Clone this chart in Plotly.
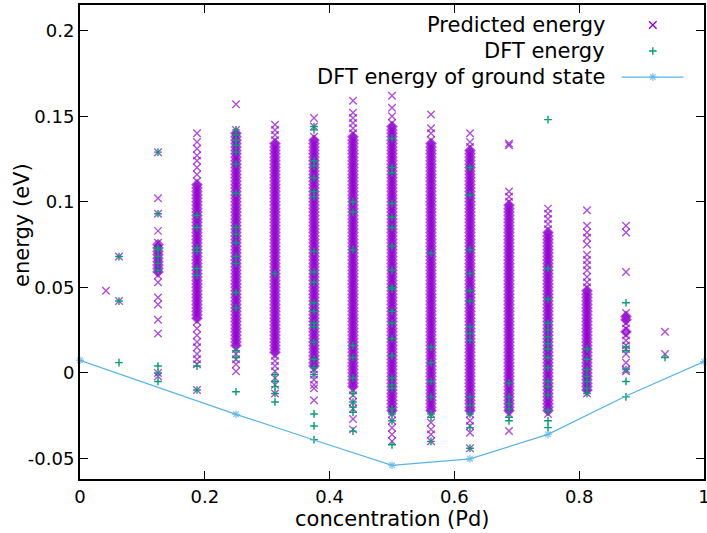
import plotly.graph_objects as go

# ---------------- data (energies in meV, converted to eV when plotted) ----------------
# Predicted energy, per Pd concentration
pred_0417 = [48]
pred_0625 = [68, 42]
pred_1250 = [129, 102, 93, 83, 76, 75, 73, 71, 69, 67, 65, 63, 61, 59, 57, 53, 44, 40, 31, 23, 0, -2]
pred_1875 = [140, 135, 131, 127, 124, 120, 116, 112, 110, 108, 106, 104, 102, 100, 98, 96, 94, 92, 90, 88, 86,
             84, 82, 80, 78, 76, 74, 72, 70, 68, 66, 64, 62, 60, 58, 56, 54, 52, 50, 48, 46, 44, 42, 40, 38, 36,
             34, 32, 30, 26, 22, 18, 15, 11, 8, 5, -10]
pred_2500 = [157, 142, 140, 138, 136, 134, 132, 130, 128, 126, 124, 122, 120, 118, 116, 114, 112, 110, 108, 106,
             104, 102, 100, 98, 96, 94, 92, 90, 88, 86, 84, 82, 80, 78, 76, 74, 72, 70, 68, 66, 64, 62, 60, 58, 56,
             54, 52, 50, 48, 46, 44, 42, 40, 38, 36, 34, 32, 30, 28, 26, 24, 22, 20, 18, 16, 14, 11, 8, 5, 1]
pred_3125 = [145, 142, 139, 136, 134, 132, 130, 128, 126, 124, 122, 120, 118, 116, 114, 112, 110, 108, 106, 104,
             102, 100, 98, 96, 94, 92, 90, 88, 86, 84, 82, 80, 78, 76, 74, 72, 70, 68, 66, 64, 62, 60, 58, 56, 54,
             52, 50, 48, 46, 44, 42, 40, 38, 36, 34, 32, 30, 28, 26, 24, 22, 20, 18, 16, 14, 12, 10, 7, 4, 1, -3,
             -7, -12]
pred_3750 = [149, 144, 138, 136, 134, 132, 130, 128, 126, 124, 122, 120, 118, 116, 114, 112, 110, 108, 106, 104,
             102, 100, 98, 96, 94, 92, 90, 88, 86, 84, 82, 80, 78, 76, 74, 72, 70, 68, 66, 64, 62, 60, 58, 56, 54,
             52, 50, 48, 46, 44, 42, 40, 38, 36, 34, 32, 30, 28, 26, 24, 22, 20, 18, 16, 14, 12, 10, 8, 6, 4, 2,
             -1, -4, -7, -9, -16]
pred_4375 = [159, 152, 149, 146, 143, 140, 138, 136, 134, 132, 130, 128, 126, 124, 122, 120, 118, 116, 114, 112,
             110, 108, 106, 104, 102, 100, 98, 96, 94, 92, 90, 88, 86, 84, 82, 80, 78, 76, 74, 72, 70, 68, 66, 64,
             62, 60, 58, 56, 54, 52, 50, 48, 46, 44, 42, 40, 38, 36, 34, 32, 30, 28, 26, 24, 22, 20, 18, 16, 14,
             12, 10, 8, 6, 4, 2, 0, -2, -4, -6, -8, -10, -13, -17, -21, -27, -33]
pred_5000 = [162, 155, 150, 146, 144, 142, 140, 138, 136, 134, 132, 130, 128, 126, 124, 122, 120, 118, 116, 114,
             112, 110, 108, 106, 104, 102, 100, 98, 96, 94, 92, 90, 88, 86, 84, 82, 80, 78, 76, 74, 72, 70, 68, 66,
             64, 62, 60, 58, 56, 54, 52, 50, 48, 46, 44, 42, 40, 38, 36, 34, 32, 30, 28, 26, 24, 22, 20, 18, 16,
             14, 12, 10, 8, 6, 4, 2, 0, -2, -4, -6, -8, -10, -12, -14, -16, -18, -20, -22, -24, -28, -32, -36, -40]
pred_5625 = [151, 143, 140, 136, 134, 132, 130, 128, 126, 124, 122, 120, 118, 116, 114, 112, 110, 108, 106, 104,
             102, 100, 98, 96, 94, 92, 90, 88, 86, 84, 82, 80, 78, 76, 74, 72, 70, 68, 66, 64, 62, 60, 58, 56, 54,
             52, 50, 48, 46, 44, 42, 40, 38, 36, 34, 32, 30, 28, 26, 24, 22, 20, 18, 16, 14, 12, 10, 8, 6, 4, 2,
             0, -2, -4, -6, -8, -10, -12, -14, -16, -18, -20, -22, -24, -29, -33, -36, -40]
pred_6250 = [140, 135, 132, 130, 128, 126, 124, 122, 120, 118, 116, 114, 112, 110, 108, 106, 104, 102, 100, 98,
             96, 94, 92, 90, 88, 86, 84, 82, 80, 78, 76, 74, 72, 70, 68, 66, 64, 62, 60, 58, 56, 54, 52, 50, 48,
             46, 44, 42, 40, 38, 36, 34, 32, 30, 28, 26, 24, 22, 20, 18, 16, 14, 12, 10, 8, 6, 4, 2, 0, -2, -4,
             -6, -8, -10, -12, -14, -16, -18, -20, -22, -24, -28, -31, -35, -44]
pred_6875 = [134, 133, 106, 103, 100, 98, 96, 94, 92, 90, 88, 86, 84, 82, 80, 78, 76, 74, 72, 70, 68, 66, 64, 62,
             60, 58, 56, 54, 52, 50, 48, 46, 44, 42, 40, 38, 36, 34, 32, 30, 28, 26, 24, 22, 20, 18, 16, 14, 12,
             10, 8, 6, 4, 2, 0, -2, -4, -6, -8, -10, -12, -14, -16, -18, -20, -22, -24, -34]
pred_7500 = [96, 93, 90, 87, 84, 82, 80, 78, 76, 74, 72, 70, 68, 66, 64, 62, 60, 58, 56, 54, 52, 50, 48, 46, 44,
             42, 40, 38, 36, 34, 32, 30, 28, 26, 24, 22, 20, 18, 16, 14, 12, 10, 8, 6, 4, 2, 0, -2, -4, -6, -8,
             -10, -12, -14, -16, -18, -20, -22, -24]
pred_8125 = [95, 86, 82, 79, 75, 69, 66, 63, 60, 56, 53, 50, 48, 46, 44, 42, 40, 38, 36, 34, 32, 30, 28, 26, 24,
             22, 20, 18, 16, 14, 12, 10, 8, 6, 4, 2, 0, -2, -4, -6, -8, -10, -12]
pred_8750 = [86, 82, 59, 35, 33, 31, 29, 26, 24, 22, 19, 16, 14, 11, 6, 2, 1]
pred_9375 = [24, 11]

# DFT energy, per Pd concentration
dft_0625 = [68, 42, 6]
dft_1250 = [129, 93, 73, 72, 68, 64, 60, 4, 0, -5]
dft_1875 = [92, 85, 73, 71, 61, 57, 4, -10]
dft_2500 = [142, 139, 136, 133, 129, 122, 105, 85, 81, 76, 68, 64, 47, 38, 13, 9, -11]
dft_3125 = [58, -1, -5, -8, -12, -17]
dft_3750 = [144, 142, 124, 121, 114, 106, 103, 71, 59, 53, 41, 36, 29, 27, 18, 8, 3, -1, -24, -31, -39]
dft_4375 = [100, 94, 72, 16, 9, -3, -12, -17, -20, -23, -34]
dft_5000 = [137, 120, 117, 99, 91, 85, 74, 60, 50, 49, 36, 29, 20, 10, -3, -7, -9, -21, -24, -28, -42]
dft_5625 = [70, 15, 6, -5, -14, -24, -26, -40]
dft_6250 = [120, 104, 72, 58, 48, 42, 27, 23, 19, -14, -19, -24, -32, -44]
dft_6875 = [-6, -14, -18, -21, -26, -28]
dft_7500 = [148, 61, 43, 29, 25, 21, 17, 14, 9, 3, -5, -8, -13, -22, -28, -32]
dft_8125 = [14, 8, 2, -2, -5, -9, -12]
dft_8750 = [41, 15, 13, 2, -5, -14]
dft_9375 = [9]

# Ground-state (convex hull) DFT energies
ground_conc = [0.0, 0.25, 0.375, 0.5, 0.625, 0.75, 0.875, 1.0]
ground_meV = [7.4, -24.2, -39.2, -54.0, -50.2, -35.9, -13.5, 6.6]

x_ticks = [0, 0.2, 0.4, 0.6, 0.8, 1.0]
x_tick_text = ["0", "0.2", "0.4", "0.6", "0.8", "1"]
y_ticks = [-0.05, 0.0, 0.05, 0.1, 0.15, 0.2]
y_tick_text = ["-0.05", "0", "0.05", "0.1", "0.15", "0.2"]

pred_groups = [(1 / 24, pred_0417), (1 / 16, pred_0625), (2 / 16, pred_1250), (3 / 16, pred_1875),
               (4 / 16, pred_2500), (5 / 16, pred_3125), (6 / 16, pred_3750), (7 / 16, pred_4375),
               (8 / 16, pred_5000), (9 / 16, pred_5625), (10 / 16, pred_6250), (11 / 16, pred_6875),
               (12 / 16, pred_7500), (13 / 16, pred_8125), (14 / 16, pred_8750), (15 / 16, pred_9375)]
dft_groups = [(1 / 16, dft_0625), (2 / 16, dft_1250), (3 / 16, dft_1875), (4 / 16, dft_2500),
              (5 / 16, dft_3125), (6 / 16, dft_3750), (7 / 16, dft_4375), (8 / 16, dft_5000),
              (9 / 16, dft_5625), (10 / 16, dft_6250), (11 / 16, dft_6875), (12 / 16, dft_7500),
              (13 / 16, dft_8125), (14 / 16, dft_8750), (15 / 16, dft_9375)]


def flatten(groups):
    """Flatten groups to x/y lists and flag markers that sit inside a crowded run
    (neighbours in the same column within 2.5 meV on both sides)."""
    xs, ys, crowded = [], [], []
    for c, vals in groups:
        for i, v in enumerate(vals):
            above = any(0 < u - v <= 2.5 for u in vals)
            below = any(0 < v - u <= 2.5 for u in vals)
            xs.append(c)
            ys.append(v / 1000.0)
            crowded.append(above and below)
    return xs, ys, crowded


PURPLE = "#9400d3"
GREEN = "#009e73"
BLUE = "#56b4e9"
FONT = "DejaVu Sans"

px, py, pc = flatten(pred_groups)
dx, dy, _ = flatten(dft_groups)

# inside crowded runs thousands of overlapping crosses merge into a solid band:
# draw those as filled diamonds, keep thin crosses for isolated points and run ends
p_symbols = ["diamond" if c else "x-thin" for c in pc]
p_sizes = [9 if c else 7.5 for c in pc]
p_widths = [0 if c else 1.4 for c in pc]

fig = go.Figure()
fig.add_trace(go.Scatter(x=px, y=py, mode="markers", name="Predicted energy",
                         marker=dict(symbol=p_symbols, size=p_sizes, color=PURPLE,
                                     line=dict(color=PURPLE, width=p_widths))))
fig.add_trace(go.Scatter(x=dx, y=dy, mode="markers", name="DFT energy",
                         marker=dict(symbol="cross-thin", size=5.5, color=GREEN,
                                     line=dict(color=GREEN, width=1.4))))
fig.add_trace(go.Scatter(x=ground_conc, y=[v / 1000.0 for v in ground_meV], mode="lines+markers",
                         name="DFT energy of ground state", cliponaxis=False,
                         line=dict(color=BLUE, width=1.2),
                         marker=dict(symbol="asterisk", size=[6.5, 6.5, 0, 6.5, 6.5, 6.5, 0, 6.5], color=BLUE,
                                     line=dict(color=BLUE, width=1.3))))

# ---- gnuplot-style key (text right-aligned, sample on the right) ----
key_rows = [0.958, 0.903, 0.848]
key_sym_x = 0.918
fig.add_trace(go.Scatter(x=[key_sym_x], y=[key_rows[0]], xaxis="x2", yaxis="y2", mode="markers",
                         showlegend=False, hoverinfo="skip",
                         marker=dict(symbol="x-thin", size=7.5, color=PURPLE, line=dict(color=PURPLE, width=1.4))))
fig.add_trace(go.Scatter(x=[key_sym_x], y=[key_rows[1]], xaxis="x2", yaxis="y2", mode="markers",
                         showlegend=False, hoverinfo="skip",
                         marker=dict(symbol="cross-thin", size=5.5, color=GREEN, line=dict(color=GREEN, width=1.4))))
fig.add_trace(go.Scatter(x=[0.868, key_sym_x, 0.967], y=[key_rows[2]] * 3, xaxis="x2", yaxis="y2",
                         mode="lines+markers", showlegend=False, hoverinfo="skip",
                         line=dict(color=BLUE, width=1.2),
                         marker=dict(symbol="asterisk", size=[0, 6.5, 0], color=BLUE,
                                     line=dict(color=BLUE, width=1.3))))

key_texts = ["Predicted energy", "DFT energy", "DFT energy of ground state"]
annotations = []
for t, yy in zip(key_texts, key_rows):
    annotations.append(dict(text=t, x=0.8446, y=yy, xref="paper", yref="paper", xanchor="right",
                            yanchor="middle", showarrow=False, font=dict(family=FONT, size=21, color="black")))
annotations.append(dict(text="energy (eV)", x=-0.093, y=0.536, xref="paper", yref="paper", textangle=-90,
                        xanchor="center", yanchor="middle", showarrow=False,
                        font=dict(family=FONT, size=21, color="black")))
annotations.append(dict(text="concentration (Pd)", x=0.5, y=-0.085, xref="paper", yref="paper",
                        xanchor="center", yanchor="middle", showarrow=False,
                        font=dict(family=FONT, size=21, color="black")))

axis_common = dict(showgrid=False, zeroline=False, showline=True, linecolor="black", linewidth=2,
                   mirror="ticks", ticks="inside", ticklen=8, tickwidth=1, tickcolor="black",
                   ticklabeloverflow="allow", automargin=False,
                   tickfont=dict(family=FONT, size=18, color="black"))

fig.update_layout(
    width=707, height=533,
    margin=dict(l=80, r=3, t=5, b=54),
    plot_bgcolor="white", paper_bgcolor="white",
    showlegend=False,
    font=dict(family=FONT, color="black"),
    xaxis=dict(range=[0, 1], tickvals=x_ticks, ticktext=x_tick_text, **axis_common),
    yaxis=dict(range=[-0.062, 0.215], tickvals=y_ticks, ticktext=y_tick_text, **axis_common),
    xaxis2=dict(overlaying="x", range=[0, 1], visible=False, anchor="y2"),
    yaxis2=dict(overlaying="y", range=[0, 1], visible=False, anchor="x2"),
    annotations=annotations,
)

fig.write_html("out.html")
